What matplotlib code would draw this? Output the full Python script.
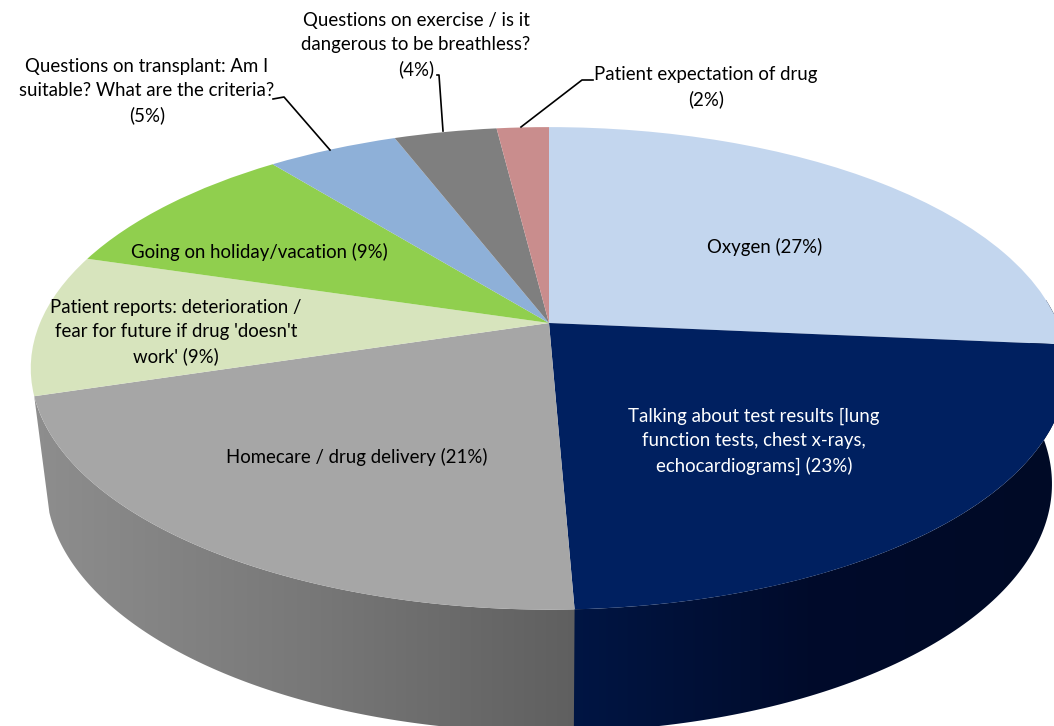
#!/usr/bin/env python
# coding: utf-8

"""
Tilted 3D style pie of conversation topics, drawn with ax.pie and a perspective transform
"""

import numpy as np
import matplotlib
matplotlib.use("Agg")
import matplotlib.pyplot as plt
from matplotlib.colors import LinearSegmentedColormap
from matplotlib.patches import Polygon
from matplotlib.transforms import Transform

plt.rcParams["font.family"] = ["Lato", "DejaVu Sans"]

# Slice shares, the labels carry the rounded numbers
topics = ["Oxygen", "Test results", "Homecare", "Patient reports", "Holiday", "Transplant", "Exercise", "Expectation"]
shares = [26.45, 22.9, 20.85, 9.5, 9.6, 4.9, 3.85, 1.95]
colors = ["#C3D6EE", "#002060", "#A6A6A6", "#D7E4BD", "#90CF4E", "#8EB0D8", "#7F7F7F", "#C98D8D"]

labels = ["Oxygen (27%)",
          "Talking about test results [lung\nfunction tests, chest x-rays,\nechocardiograms] (23%)",
          "Homecare / drug delivery (21%)",
          "Patient reports: deterioration /\nfear for future if drug 'doesn't\nwork' (9%)",
          "Going on holiday/vacation (9%)",
          "Questions on transplant: Am I\nsuitable? What are the criteria?\n(5%)",
          "Questions on exercise / is it\ndangerous to be breathless?\n(4%)",
          "Patient expectation of drug\n(2%)"]
label_colors = ["black", "white", "black", "black", "black", "black", "black", "black"]
label_xy = [(765, 247), (754, 441), (357, 457), (176, 332), (259, 252), (147, 91), (416, 45), (706, 87)]

# Leader lines for the labels outside the pie
leaders = [([273, 284, 330], [99, 97, 150]),
           ([437, 439, 443], [75, 75, 131]),
           ([593, 582, 521], [80, 80, 127])]


class Tilt(Transform):
    """Maps the unit circle of the pie on to a disc seen in perspective (pixels)."""
    input_dims = 2
    output_dims = 2
    is_separable = False

    def __init__(self, xmid, rad, ymid, ydepth, pers):
        super().__init__()
        self.xmid, self.rad, self.ymid, self.ydepth, self.pers = xmid, rad, ymid, ydepth, pers

    def transform_non_affine(self, values):
        values = np.asarray(values, dtype=float)
        scale = 1 + self.pers * values[:, 1]
        xs = self.xmid + self.rad * values[:, 0] / scale
        ys = (self.ymid - self.ydepth * values[:, 1]) / scale
        return np.column_stack([xs, ys])


top_disc = Tilt(549, 509, 323, 172, 0.188)
bottom_disc = Tilt(549, 494, 437.4, 157, 0.188)


def wall_outline(start, stop):
    # Outline of the rim between two cumulative shares, clockwise from twelve o'clock
    theta = np.radians(np.linspace(start, stop, 120) * 3.6)
    circle = np.column_stack([np.sin(theta), np.cos(theta)])
    return np.vstack([top_disc.transform_non_affine(circle),
                      bottom_disc.transform_non_affine(circle)[::-1]])


# Create plot objects
fig = plt.figure(figsize=(10.54, 7.26), dpi=100)
ax = fig.add_axes([0, 0, 1, 1])

# Rim of the two front slices, with a horizontal shading
# The navy rim starts a little early so it reaches the right hand silhouette,
# the grey rim runs on under the navy one so no seam shows between them
cum = np.cumsum(shares)
walls = [(cum[1] - 1, cum[2], 30, 590, ["#8E8E8E", "#787878", "#5E5E5E"], 0),
         (cum[0] - 4, cum[1], 560, 1054, ["#001645", "#000B2B", "#000A26"], 0.5)]
for start, stop, xleft, xright, stops, zorder in walls:
    shade = LinearSegmentedColormap.from_list("shade", stops)
    grad = np.linspace(0, 1, 256).reshape(1, -1)
    image = ax.imshow(grad, extent=(xleft, xright, 760, 300), cmap=shade, aspect="auto", zorder=zorder)
    image.set_clip_path(Polygon(wall_outline(start, stop), closed=True, transform=ax.transData))

# Top of the pie
wedges, _ = ax.pie(shares, colors=colors, startangle=90, counterclock=False)
for wedge in wedges:
    wedge.set_transform(top_disc + ax.transData)
    wedge.set_zorder(1)
    wedge.set_linewidth(0)

ax.set_aspect("auto")
ax.set_xlim(0, 1054)
ax.set_ylim(726, 0)
ax.axis("off")

# Leader lines
for xs, ys in leaders:
    ax.plot(xs, ys, color="black", linewidth=1.2, zorder=2)

# Labels
for text, color, (xpos, ypos) in zip(labels, label_colors, label_xy):
    ax.text(xpos, ypos, text, color=color, fontsize=13.4, ha="center", va="center",
            linespacing=1.5, zorder=3)

fig.savefig("out.png", dpi=100)
